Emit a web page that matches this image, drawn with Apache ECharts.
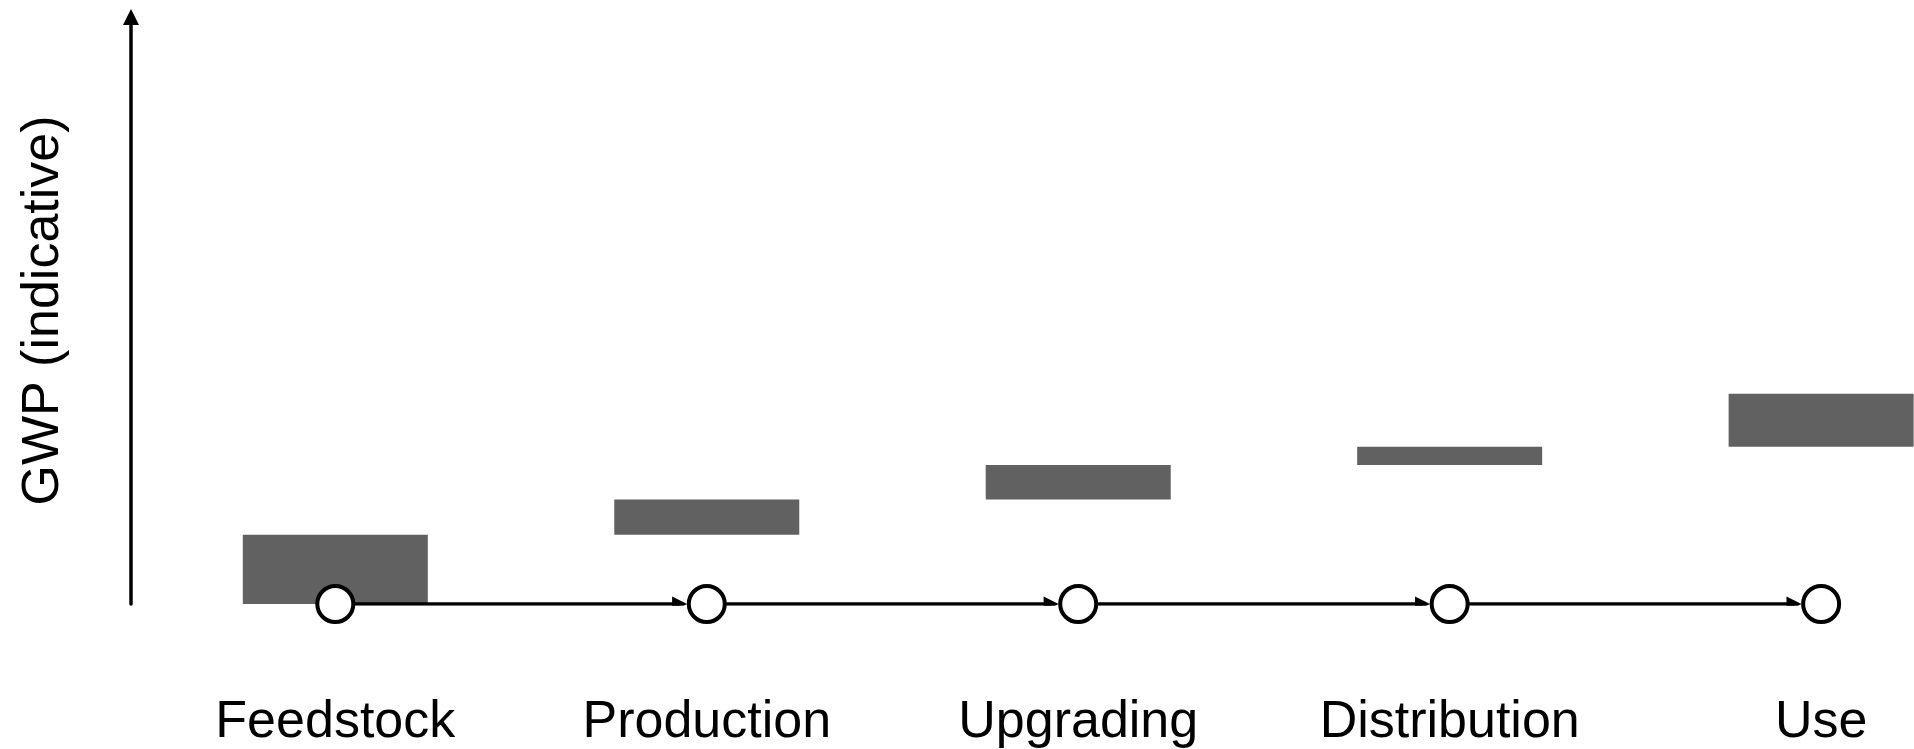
<!DOCTYPE html>
<html>
<head>
<meta charset="utf-8">
<title>GWP (indicative)</title>
<script src="https://cdn.jsdelivr.net/npm/echarts@6.0.0/dist/echarts.min.js"></script>
<style>
  html, body { margin: 0; padding: 0; background: #ffffff; }
  #myChart { width: 1914px; height: 749px; }
</style>
</head>
<body>
<div id="myChart"></div>
<script>
// stages along the chain
var stages = ['Feedstock', 'Production', 'Upgrading', 'Distribution', 'Use'];
// GWP added by each stage (indicative, no unit shown)
var gwpStep = [11.8, 6.0, 5.9, 3.1, 9.0];
var yRange = [0, 100];

// floating bars: each stage starts where the previous one ended
var bars = [];
var acc = 0;
gwpStep.forEach(function (v, i) {
  bars.push([i, acc, acc + v]);
  acc += v;
});

var nodes = stages.map(function (s, i) { return [i, 0]; });

// arrows between the nodes, the tip stops at the next circle
var arrowGap = 0.073;
var links = [];
for (var i = 0; i < stages.length - 1; i++) {
  links.push({ coords: [[i, 0], [i + 1 - arrowGap, 0]] });
}

var barWidth = 185;
var font = "'Liberation Sans', Arial, sans-serif";
var chartInst = echarts.init(document.getElementById('myChart'));
chartInst.setOption({
  animation: false,
  grid: {
    left: 131,
    right: 0,
    top: 17,
    bottom: 144,
  },
  xAxis: {
    type: 'value',
    min: -0.55,
    max: 4.25,
    axisLine: { show: false },
    axisTick: { show: false },
    splitLine: { show: false },
    axisLabel: {
      customValues: [0, 1, 2, 3, 4],
      formatter: function (v) { return stages[Math.round(v)]; },
      margin: 119,
      verticalAlign: 'middle',
      color: '#000',
      fontSize: 52,
      fontFamily: font,
    },
  },
  yAxis: {
    type: 'value',
    min: yRange[0],
    max: yRange[1],
    name: 'GWP (indicative)',
    nameLocation: 'middle',
    nameRotate: 90,
    nameGap: 87,
    nameTextStyle: {
      color: '#000',
      fontSize: 52,
      fontFamily: font,
      verticalAlign: 'middle',
    },
    axisLine: {
      show: true,
      onZero: false,
      symbol: ['none', 'triangle'],
      symbolSize: [16, 16],
      lineStyle: { color: '#000', width: 3.5 },
    },
    axisTick: { show: false },
    axisLabel: { show: false },
    splitLine: { show: false },
  },
  series: [
    {
      // floating bar from the running total to the new total
      type: 'custom',
      data: bars,
      encode: { x: 0, y: [1, 2] },
      renderItem: function (params, api) {
        var p0 = api.coord([api.value(0), api.value(1)]);
        var p1 = api.coord([api.value(0), api.value(2)]);
        return {
          type: 'rect',
          shape: {
            x: p0[0] - barWidth / 2,
            y: p1[1],
            width: barWidth,
            height: p0[1] - p1[1],
          },
          style: { fill: '#616161' },
        };
      },
      z: 2,
    },
    {
      type: 'lines',
      coordinateSystem: 'cartesian2d',
      symbol: ['none', 'triangle'],
      symbolSize: [16, 15],
      lineStyle: { color: '#000', width: 3.5, opacity: 1, curveness: 0 },
      data: links,
      z: 3,
    },
    {
      type: 'scatter',
      symbol: 'circle',
      symbolSize: 36,
      clip: false,
      data: nodes,
      itemStyle: { color: '#fff', borderColor: '#000', borderWidth: 4, opacity: 1 },
      z: 4,
    },
  ],
});
</script>
</body>
</html>
